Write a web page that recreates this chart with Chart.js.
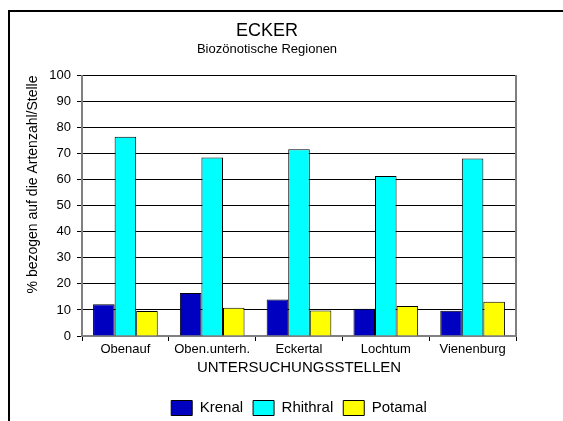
<!DOCTYPE html>
<html>
<head>
<meta charset="utf-8">
<script src="https://cdn.jsdelivr.net/npm/chart.js@4"></script>
<style>
  html, body { margin: 0; padding: 0; background: #fff; }
  #wrap { position: relative; width: 563px; height: 421px; overflow: hidden; }
  #frame { position: absolute; left: 8px; top: 10px; width: 600px; height: 450px;
           border-left: 2px solid #000; border-top: 2px solid #000; pointer-events: none; }
</style>
</head>
<body>
<div id="wrap">
  <canvas id="ecker_chart" width="563" height="421"></canvas>
  <div id="frame"></div>
</div>
<script>
const stellen = ["Obenauf", "Oben.unterh.", "Eckertal", "Lochtum", "Vienenburg"];
const krenal = [12.2, 16.5, 14, 10.5, 9.7];
const rhithral = [76.5, 68.5, 71.7, 61.4, 68.1];
const potamal = [9.6, 10.8, 9.8, 11.5, 13.1];
const yTicks = [0, 10, 20, 30, 40, 50, 60, 70, 80, 90, 100];

const font = "'Liberation Sans', Arial, sans-serif";

var ctx = document.getElementById("ecker_chart").getContext("2d");

var myChart = new Chart(ctx, {
  type: "bar",
  data: {
    labels: stellen,
    datasets: [
      {
        label: "Krenal",
        data: krenal,
        backgroundColor: "#0000c0",
        borderColor: "#000",
        borderWidth: 1,
      },
      {
        label: "Rhithral",
        data: rhithral,
        backgroundColor: "#00ffff",
        borderColor: "#000",
        borderWidth: 1,
      },
      {
        label: "Potamal",
        data: potamal,
        backgroundColor: "#ffff00",
        borderColor: "#000",
        borderWidth: 1,
      },
    ],
  },
  options: {
    responsive: false,
    animation: false,
    layout: {
      padding: { left: 18, right: 47, top: 16, bottom: -4.5 },
    },
    datasets: {
      bar: { categoryPercentage: 0.745, barPercentage: 1.0 },
    },
    plugins: {
      title: {
        display: true,
        text: "ECKER",
        color: "#000",
        font: { family: font, size: 18, weight: "normal" },
        padding: { top: 4, bottom: 0 },
      },
      subtitle: {
        display: true,
        text: "Biozönotische Regionen",
        color: "#000",
        font: { family: font, size: 13, weight: "normal" },
        padding: { top: 0, bottom: 18.3 },
      },
      legend: {
        display: true,
        position: "bottom",
        fullSize: false,
        labels: {
          color: "#000",
          boxWidth: 21,
          boxHeight: 15,
          padding: 10,
          font: { family: font, size: 15 },
        },
      },
      tooltip: { enabled: false },
    },
    scales: {
      x: {
        afterFit: (axis) => {
          axis.height = 54.5;
        },
        grid: {
          offset: true,
          drawOnChartArea: false,
          tickLength: 5,
          color: "#000",
        },
        border: { color: "#808080", width: 2 },
        ticks: {
          color: "#000",
          padding: 1,
          font: { family: font, size: 13 },
        },
        title: {
          display: true,
          text: "UNTERSUCHUNGSSTELLEN",
          color: "#000",
          padding: { top: 0, bottom: 13.5 },
          font: { family: font, size: 15 },
        },
      },
      y: {
        min: 0,
        max: 100,
        afterBuildTicks: (axis) => {
          axis.ticks = yTicks.map((v) => ({ value: v }));
        },
        afterFit: (axis) => {
          axis.width = 64;
        },
        grid: {
          color: "#000",
          tickLength: 5,
        },
        border: { color: "#808080", width: 2 },
        ticks: {
          color: "#000",
          padding: 6,
          font: { family: font, size: 13 },
        },
        title: {
          display: true,
          text: "% bezogen auf die Artenzahl/Stelle",
          color: "#000",
          align: "end",
          padding: { top: 6.6, bottom: 0 },
          font: { family: font, size: 14 },
        },
      },
      y2: {
        position: "right",
        min: 0,
        max: 100,
        afterFit: (axis) => {
          axis.width = 0;
        },
        grid: { display: false },
        border: { color: "#808080", width: 2 },
        ticks: { display: false },
      },
    },
  },
});
</script>
</body>
</html>
